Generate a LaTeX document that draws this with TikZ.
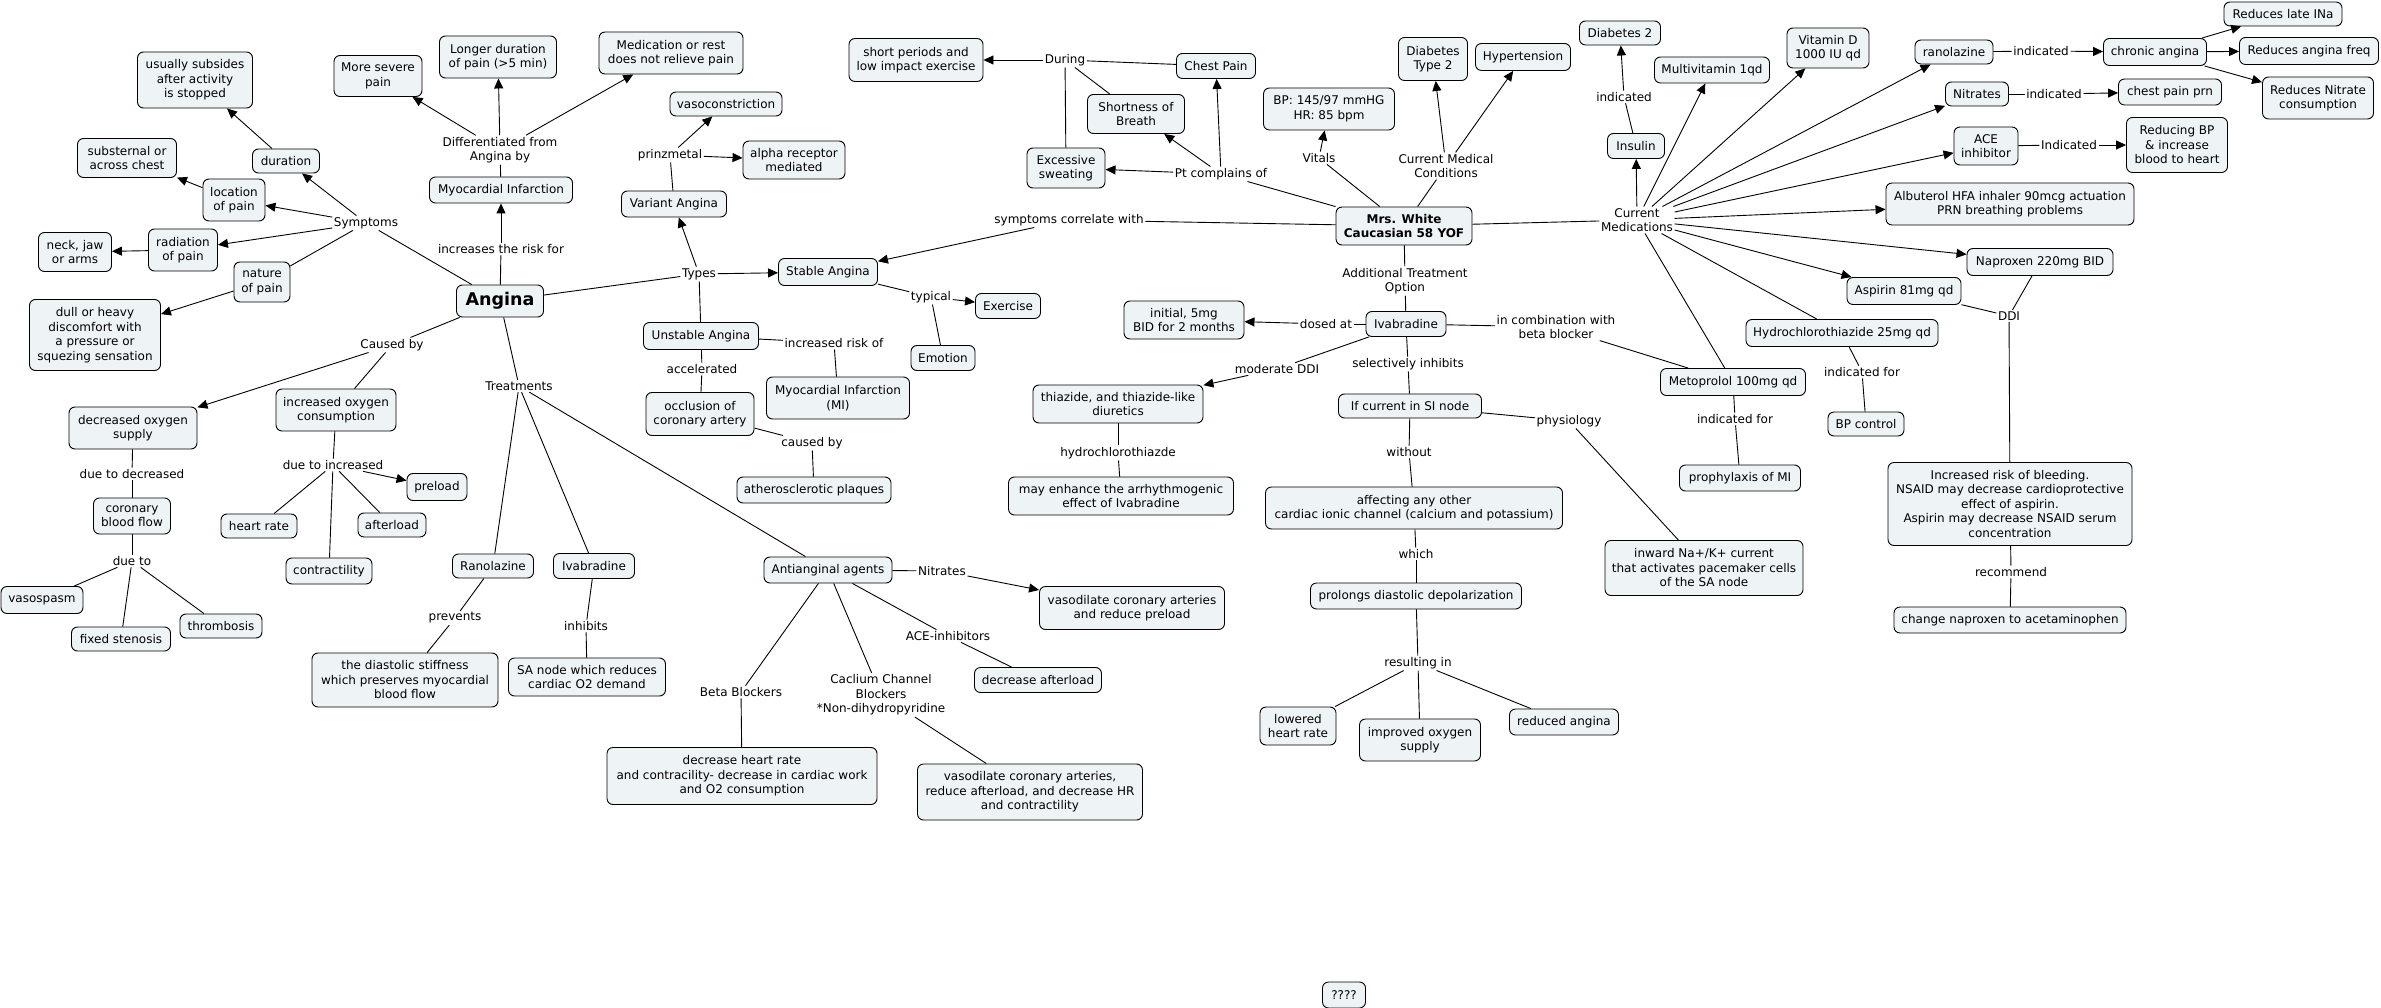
\documentclass[tikz,border=0pt]{standalone}
\usepackage{fontspec}
\setmainfont{DejaVu Sans}
\usetikzlibrary{arrows.meta}
\definecolor{boxfill}{RGB}{238,244,246}
\newcommand\mybox[6]{\node[box,minimum width=#4pt,minimum height=#5pt] (#1) at (#2,#3) {#6};}
\newcommand\mylbl[4]{\node[lbl] (#1) at (#2,#3) {#4};}
\begin{document}
\begin{tikzpicture}[x=1pt,y=-1pt,
 box/.style={draw=black, fill=boxfill, rounded corners=6pt, align=center, line width=0.9pt, inner xsep=5pt, inner ysep=2pt, font=\fontsize{12}{14.5}\selectfont},
 lbl/.style={align=center, inner sep=1.5pt, font=\fontsize{12}{14.5}\selectfont},
 ln/.style={draw=black, line width=0.9pt},
 ar/.style={ln, -{Triangle[length=10pt,width=9pt]}}]
\useasboundingbox[fill=white] (0,0) rectangle (2381,1008);

% ---------- boxes: left part ----------
\mybox{usub}{195}{80}{115}{56}{usually subsides\\after activity\\is stopped}
\mybox{severe}{378}{76}{88}{41}{More severe\\pain}
\mybox{longer}{498}{57}{117}{42}{Longer duration\\of pain (>5 min)}
\mybox{medrest}{671}{53}{144}{42}{Medication or rest\\does not relieve pain}
\mybox{subst}{127}{158}{99}{39}{substernal or\\across chest}
\mybox{dur}{286}{161}{67}{24}{duration}
\mybox{loc}{234}{200}{62}{42}{location\\of pain}
\mybox{neck}{75}{252}{73}{39}{neck, jaw\\or arms}
\mybox{rad}{183}{250}{69}{42}{radiation\\of pain}
\mybox{nat}{262}{282}{56}{40}{nature\\of pain}
\mybox{dull}{95}{335}{131}{71}{dull or heavy\\discomfort with\\a pressure or\\squezing sensation}
\mybox{mi}{501}{190}{143}{26}{Myocardial Infarction}
\node[box,minimum width=87pt,minimum height=32pt,font=\fontsize{17.5}{20}\selectfont\bfseries] (angina) at (500,301) {Angina};
\mybox{decO2}{133}{428}{128}{42}{decreased oxygen\\supply}
\mybox{incO2}{336}{410}{120}{42}{increased oxygen\\consumption}
\mybox{cbf}{132}{516}{77}{36}{coronary\\blood flow}
\mybox{vaso}{42}{600}{82}{27}{vasospasm}
\mybox{fixst}{121}{639}{99}{24}{fixed stenosis}
\mybox{thromb}{221}{626}{82}{24}{thrombosis}
\mybox{preload}{437}{487}{60}{27}{preload}
\mybox{hr}{259}{526}{76}{24}{heart rate}
\mybox{afterl}{392}{525}{68}{24}{afterload}
\mybox{contr}{329}{571}{86}{26}{contractility}
\mybox{rano}{493}{566}{81}{24}{Ranolazine}
\mybox{diast}{405}{680}{186}{54}{the diastolic stiffness\\which preserves myocardial\\blood flow}
\mybox{ivaL}{594}{566}{81}{25}{Ivabradine}
\mybox{sanode}{587}{677}{157}{38}{SA node which reduces\\cardiac O2 demand}
\mybox{vasoc}{726}{104}{112}{24}{vasoconstriction}
\mybox{alpha}{794}{160}{102}{38}{alpha receptor\\mediated}
\mybox{variant}{674}{204}{105}{26}{Variant Angina}
\mybox{stable}{828}{272}{99}{27}{Stable Angina}
\mybox{exer}{1008}{306}{65}{25}{Exercise}
\mybox{unstable}{701}{336}{115}{27}{Unstable Angina}
\mybox{emotion}{943}{358}{64}{25}{Emotion}
\mybox{occl}{700}{414}{108}{43}{occlusion of\\coronary artery}
\mybox{mimi}{838}{398}{143}{42}{Myocardial Infarction\\(MI)}
\mybox{athero}{814}{490}{154}{26}{atherosclerotic plaques}
\mybox{antiang}{828}{570}{128}{26}{Antianginal agents}
\mybox{vasoNit}{1132}{608}{185}{43}{vasodilate coronary arteries\\and reduce preload}
\mybox{decafter}{1038}{680}{127}{25}{decrease afterload}
\mybox{dechr}{742}{776}{270}{57}{decrease heart rate\\and contracility- decrease in cardiac work\\and O2 consumption}
\mybox{vasoCCB}{1030}{792}{225}{56}{vasodilate coronary arteries,\\reduce afterload, and decrease HR\\and contractility}

% ---------- boxes: middle ----------
\mybox{short}{916}{60}{134}{43}{short periods and\\low impact exercise}
\mybox{sob}{1136}{114}{97}{39}{Shortness of\\Breath}
\mybox{sweat}{1066}{168}{78}{40}{Excessive\\sweating}
\mybox{chest}{1216}{66}{79}{25}{Chest Pain}
\mybox{bp}{1329}{109}{131}{42}{BP: 145/97 mmHG\\HR: 85 bpm}
\mybox{dt2}{1433}{59}{69}{43}{Diabetes\\Type 2}
\mybox{htn}{1523}{57}{95}{27}{Hypertension}
\mybox{d2}{1620}{33}{81}{24}{Diabetes 2}
\mybox{insulin}{1636}{146}{57}{25}{Insulin}
\mybox{multi}{1712}{70}{115}{26}{Multivitamin 1qd}
\node[box,minimum width=136pt,minimum height=38pt,font=\fontsize{12}{14.5}\selectfont\bfseries] (mrsw) at (1404,226) {Mrs. White\\Caucasian 58 YOF};
\mybox{ivaR}{1406}{324}{80}{25}{Ivabradine}
\mybox{init}{1184}{320}{120}{38}{initial, 5mg\\BID for 2 months}
\mybox{thiaz}{1118}{404}{170}{38}{thiazide, and thiazide-like\\diuretics}
\mybox{enhance}{1121}{496}{225}{38}{may enhance the arrhythmogenic\\effect of Ivabradine}
\mybox{ifcur}{1410}{406}{143}{24}{If current in SI node}
\mybox{affect}{1414}{508}{297}{42}{affecting any other\\cardiac ionic channel (calcium and potassium)}
\mybox{prolong}{1416}{596}{211}{26}{prolongs diastolic depolarization}
\mybox{lowhr}{1298}{726}{76}{38}{lowered\\heart rate}
\mybox{impox}{1420}{740}{121}{42}{improved oxygen\\supply}
\mybox{redang}{1564}{722}{109}{26}{reduced angina}
\mybox{inward}{1704}{568}{198}{55}{inward Na+/K+ current\\that activates pacemaker cells\\of the SA node}
\mybox{q}{1344}{995}{43}{26}{????}

% ---------- boxes: right ----------
\mybox{meto}{1733}{382}{145}{27}{Metoprolol 100mg qd}
\mybox{proph}{1740}{478}{121}{26}{prophylaxis of MI}
\mybox{hctz}{1842}{333}{192}{27}{Hydrochlorothiazide 25mg qd}
\mybox{bpc}{1866}{424}{76}{24}{BP control}
\mybox{asp}{1904}{291}{114}{27}{Aspirin 81mg qd}
\mybox{napr}{2040}{262}{146}{27}{Naproxen 220mg BID}
\mybox{incrisk}{2010}{504}{244}{83}{Increased risk of bleeding.\\NSAID may decrease cardioprotective\\effect of aspirin.\\Aspirin may decrease NSAID serum\\concentration}
\mybox{change}{2010}{620}{232}{26}{change naproxen to acetaminophen}
\mybox{vitd}{1828}{48}{82}{40}{Vitamin D\\1000 IU qd}
\mybox{ranoR}{1954}{52}{78}{24}{ranolazine}
\mybox{chronic}{2155}{52}{103}{27}{chronic angina}
\mybox{lateINa}{2283}{14}{118}{24}{Reduces late INa}
\mybox{freq}{2309}{51}{139}{27}{Reduces angina freq}
\mybox{nitcons}{2318}{98}{111}{42}{Reduces Nitrate\\consumption}
\mybox{nitR}{1977}{94}{63}{24}{Nitrates}
\mybox{cpprn}{2170}{92}{103}{26}{chest pain prn}
\mybox{ace}{1986}{146}{64}{38}{ACE\\inhibitor}
\mybox{redbp}{2177}{145}{101}{55}{Reducing BP\\\& increase\\blood to heart}
\mybox{albut}{2010}{204}{248}{42}{Albuterol HFA inhaler 90mcg actuation\\PRN breathing problems}

% ---------- linking phrases ----------
\mylbl{l_sym}{366}{223}{Symptoms}
\mylbl{l_diff}{500}{150}{Differentiated from\\Angina by}
\mylbl{l_inc}{501}{249}{increases the risk for}
\mylbl{l_caused}{392}{345}{Caused by}
\mylbl{l_dtd}{132}{474}{due to decreased}
\mylbl{l_dt}{132}{561}{due to}
\mylbl{l_dti}{333}{465}{due to increased}
\mylbl{l_treat}{519}{386}{Treatments}
\mylbl{l_prev}{455}{618}{prevents}
\mylbl{l_inh}{586}{626}{inhibits}
\mylbl{l_prinz}{670}{155}{prinzmetal}
\mylbl{l_types}{699}{274}{Types}
\mylbl{l_typ}{931}{297}{typical}
\mylbl{l_irisk}{834}{343}{increased risk of}
\mylbl{l_acc}{702}{369}{accelerated}
\mylbl{l_causedby}{812}{443}{caused by}
\mylbl{l_nit}{942}{571}{Nitrates}
\mylbl{l_ace}{948}{636}{ACE-inhibitors}
\mylbl{l_beta}{741}{692}{Beta Blockers}
\mylbl{l_ccb}{881}{695}{Caclium Channel\\Blockers\\*Non-dihydropyridine}
\mylbl{l_during}{1065}{60}{During}
\mylbl{l_scw}{1069}{220}{symptoms correlate with}
\mylbl{l_ptc}{1221}{174}{Pt complains of}
\mylbl{l_vitals}{1319}{158}{Vitals}
\mylbl{l_cmc}{1446}{166}{Current Medical\\Conditions}
\mylbl{l_indic}{1624}{97}{indicated}
\mylbl{l_curmed}{1637}{220}{Current\\Medications}
\mylbl{l_ato}{1405}{281}{Additional Treatment\\Option}
\mylbl{l_dosed}{1326}{324}{dosed at}
\mylbl{l_comb}{1556}{327}{in combination with\\beta blocker}
\mylbl{l_mddi}{1277}{369}{moderate DDI}
\mylbl{l_sel}{1408}{364}{selectively inhibits}
\mylbl{l_hctz}{1118}{453}{hydrochlorothiazde}
\mylbl{l_phys}{1569}{421}{physiology}
\mylbl{l_without}{1409}{452}{without}
\mylbl{l_which}{1416}{554}{which}
\mylbl{l_result}{1418}{663}{resulting in}
\mylbl{l_indfor1}{1735}{419}{indicated for}
\mylbl{l_indfor2}{1862}{372}{indicated for}
\mylbl{l_ddi}{2009}{316}{DDI}
\mylbl{l_recom}{2011}{572}{recommend}
\mylbl{l_indrano}{2041}{51}{indicated}
\mylbl{l_indnit}{2054}{94}{indicated}
\mylbl{l_indace}{2069}{145}{Indicated}

% ---------- connectors: Angina ----------
\draw[ln] (angina) -- (l_inc); \draw[ar] (l_inc) -- (mi);
\draw[ln] (mi) -- (l_diff);
\draw[ar] (l_diff) -- (severe); \draw[ar] (l_diff) -- (longer); \draw[ar] (l_diff) -- (medrest);
\draw[ln] (angina) -- (l_sym);
\draw[ar] (l_sym) -- (dur); \draw[ar] (l_sym) -- (loc); \draw[ar] (l_sym) -- (rad); \draw[ln] (l_sym) -- (nat);
\draw[ar] (dur) -- (usub); \draw[ar] (loc) -- (subst); \draw[ar] (rad) -- (neck); \draw[ar] (nat) -- (dull);
\draw[ln] (angina) -- (l_caused); \draw[ar] (l_caused) -- (decO2); \draw[ln] (l_caused) -- (incO2);
\draw[ln] (decO2) -- (l_dtd); \draw[ln] (l_dtd) -- (cbf);
\draw[ln] (cbf) -- (l_dt); \draw[ln] (l_dt) -- (vaso); \draw[ln] (l_dt) -- (fixst); \draw[ln] (l_dt) -- (thromb);
\draw[ln] (incO2) -- (l_dti); \draw[ar] (l_dti) -- (preload);
\draw[ln] (l_dti) -- (hr); \draw[ln] (l_dti) -- (afterl); \draw[ln] (l_dti) -- (contr);
\draw[ln] (angina) -- (l_treat);
\draw[ln] (l_treat) -- (rano); \draw[ln] (l_treat) -- (ivaL); \draw[ln] (l_treat) -- (antiang);
\draw[ln] (rano) -- (l_prev); \draw[ln] (l_prev) -- (diast);
\draw[ln] (ivaL) -- (l_inh); \draw[ln] (l_inh) -- (sanode);
\draw[ln] (antiang) -- (l_nit); \draw[ar] (l_nit) -- (vasoNit);
\draw[ln] (antiang) -- (l_ace); \draw[ln] (l_ace) -- (decafter);
\draw[ln] (antiang) -- (l_beta); \draw[ln] (l_beta) -- (dechr);
\draw[ln] (antiang) -- (l_ccb); \draw[ln] (l_ccb) -- (vasoCCB);
\draw[ln] (angina) -- (l_types);
\draw[ar] (l_types) -- (stable); \draw[ar] (l_types) -- (variant); \draw[ln] (l_types) -- (unstable);
\draw[ln] (variant) -- (l_prinz); \draw[ar] (l_prinz) -- (vasoc); \draw[ar] (l_prinz) -- (alpha);
\draw[ln] (stable) -- (l_typ); \draw[ar] (l_typ) -- (exer); \draw[ln] (l_typ) -- (emotion);
\draw[ln] (unstable) -- (l_irisk); \draw[ln] (l_irisk) -- (mimi);
\draw[ln] (unstable) -- (l_acc); \draw[ln] (l_acc) -- (occl);
\draw[ln] (occl) -- (l_causedby); \draw[ln] (l_causedby) -- (athero);

% ---------- connectors: Mrs. White ----------
\draw[ln] (mrsw) -- (l_scw); \draw[ar] (l_scw) -- (stable);
\draw[ln] (mrsw) -- (l_ptc);
\draw[ar] (l_ptc) -- (chest); \draw[ar] (l_ptc) -- (sob); \draw[ar] (l_ptc) -- (sweat);
\draw[ln] (chest) -- (l_during); \draw[ln] (sob) -- (l_during); \draw[ln] (sweat) -- (l_during);
\draw[ar] (l_during) -- (short);
\draw[ln] (mrsw) -- (l_vitals); \draw[ar] (l_vitals) -- (bp);
\draw[ln] (mrsw) -- (l_cmc); \draw[ar] (l_cmc) -- (dt2); \draw[ar] (l_cmc) -- (htn);
\draw[ln] (mrsw) -- (l_curmed);
\draw[ar] (l_curmed) -- (insulin); \draw[ar] (l_curmed) -- (multi); \draw[ar] (l_curmed) -- (vitd);
\draw[ar] (l_curmed) -- (ranoR); \draw[ar] (l_curmed) -- (nitR); \draw[ar] (l_curmed) -- (ace);
\draw[ar] (l_curmed) -- (albut); \draw[ar] (l_curmed) -- (napr); \draw[ar] (l_curmed) -- (asp);
\draw[ln] (l_curmed) -- (hctz); \draw[ln] (l_curmed) -- (meto);
\draw[ln] (insulin) -- (l_indic); \draw[ar] (l_indic) -- (d2);
\draw[ln] (ranoR) -- (l_indrano); \draw[ar] (l_indrano) -- (chronic);
\draw[ar] (chronic) -- (lateINa); \draw[ar] (chronic) -- (freq); \draw[ar] (chronic) -- (nitcons);
\draw[ln] (nitR) -- (l_indnit); \draw[ar] (l_indnit) -- (cpprn);
\draw[ln] (ace) -- (l_indace); \draw[ar] (l_indace) -- (redbp);
\draw[ln] (meto) -- (l_indfor1); \draw[ln] (l_indfor1) -- (proph);
\draw[ln] (hctz) -- (l_indfor2); \draw[ln] (l_indfor2) -- (bpc);
\draw[ln] (asp) -- (l_ddi); \draw[ln] (napr) -- (l_ddi); \draw[ln] (l_ddi) -- (incrisk);
\draw[ln] (incrisk) -- (l_recom); \draw[ln] (l_recom) -- (change);
\draw[ln] (mrsw) -- (l_ato); \draw[ln] (l_ato) -- (ivaR);
\draw[ln] (ivaR) -- (l_dosed); \draw[ar] (l_dosed) -- (init);
\draw[ln] (ivaR) -- (l_comb); \draw[ln] (l_comb) -- (meto);
\draw[ln] (ivaR) -- (l_mddi); \draw[ar] (l_mddi) -- (thiaz);
\draw[ln] (thiaz) -- (l_hctz); \draw[ln] (l_hctz) -- (enhance);
\draw[ln] (ivaR) -- (l_sel); \draw[ln] (l_sel) -- (ifcur);
\draw[ln] (ifcur) -- (l_without); \draw[ln] (l_without) -- (affect);
\draw[ln] (affect) -- (l_which); \draw[ln] (l_which) -- (prolong);
\draw[ln] (prolong) -- (l_result);
\draw[ln] (l_result) -- (lowhr); \draw[ln] (l_result) -- (impox); \draw[ln] (l_result) -- (redang);
\draw[ln] (ifcur) -- (l_phys); \draw[ln] (l_phys) -- (inward);
\end{tikzpicture}
\end{document}
